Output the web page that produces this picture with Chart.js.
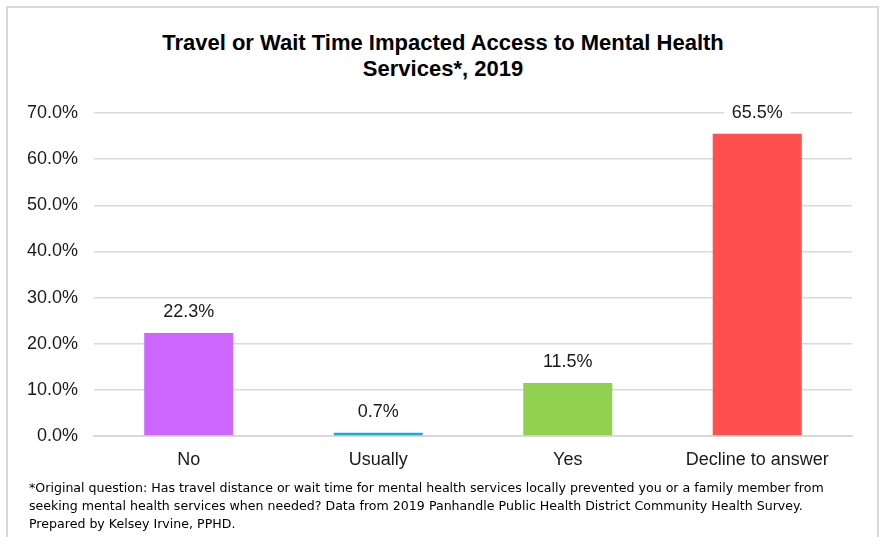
<!DOCTYPE html>
<html lang="en">
<head>
  <meta charset="UTF-8">
  <title>Travel or Wait Time Impacted Access to Mental Health Services, 2019</title>
  <script src="https://cdn.jsdelivr.net/npm/chart.js"></script>
  <style>
    body { margin: 0; background: #fff; }
    .frame {
      position: absolute; left: 6px; top: 6px; width: 869px; height: 540px;
      border: 2px solid #d9d9d9;
    }
    .title {
      position: absolute; left: 0; top: 30px; width: 886px; text-align: center;
      font-family: "Liberation Sans", Arial, sans-serif; font-weight: bold;
      font-size: 22px; line-height: 26px; color: #000;
    }
    .chart-box { position: absolute; left: 0; top: 0; width: 881px; height: 490px; }
    .note {
      position: absolute; left: 29px; top: 479px; width: 845px; white-space: nowrap;
      font-family: "DejaVu Sans", sans-serif; font-size: 12.6px; line-height: 18px; color: #000;
    }
  </style>
</head>
<body>
  <div class="frame"></div>
  <div class="title">Travel or Wait Time Impacted Access to Mental Health<br>Services*, 2019</div>
  <div class="chart-box"><canvas id="chart" width="881" height="490"></canvas></div>
  <div class="note">*Original question: Has travel distance or wait time for mental health services locally prevented you or a family member from<br>seeking mental health services when needed? Data from 2019 Panhandle Public Health District Community Health Survey.<br>Prepared by Kelsey Irvine, PPHD.</div>
  <script>
    const categories = ["No", "Usually", "Yes", "Decline to answer"];
    const percents = [22.3, 0.7, 11.5, 65.5];
    const barColors = ["#cc66ff", "#1fa8e0", "#92d050", "#ff5050"];
    const yTicks = [0, 10, 20, 30, 40, 50, 60, 70];

    const FONT = '"Liberation Sans", Arial, sans-serif';

    // value labels above the bars, on a white box so the gridlines are cut
    const valueLabels = {
      id: 'valueLabels',
      afterDatasetsDraw(chart) {
        const ctx = chart.ctx;
        const meta = chart.getDatasetMeta(0);
        ctx.save();
        ctx.font = '18px ' + FONT;
        ctx.textAlign = 'center';
        ctx.textBaseline = 'middle';
        meta.data.forEach((bar, i) => {
          const text = percents[i].toFixed(1) + '%';
          const w = ctx.measureText(text).width + 16;
          const cy = bar.y - 21;
          ctx.fillStyle = '#fff';
          ctx.fillRect(bar.x - w / 2, cy - 13, w, 26);
          ctx.fillStyle = '#1a1a1a';
          ctx.fillText(text, bar.x, cy);
        });
        ctx.restore();
      }
    };

    new Chart(document.getElementById('chart'), {
      type: 'bar',
      data: {
        labels: categories,
        datasets: [{
          data: percents,
          backgroundColor: barColors,
          borderWidth: 0,
          categoryPercentage: 1,
          barPercentage: 0.47
        }]
      },
      options: {
        responsive: false,
        animation: false,
        layout: { padding: { left: 0, right: 29, top: 113, bottom: 14 } },
        plugins: {
          legend: { display: false },
          tooltip: { enabled: false },
          title: { display: false }
        },
        scales: {
          x: {
            grid: { display: false },
            border: { color: '#d9d9d9', width: 2 },
            ticks: {
              color: '#1a1a1a',
              padding: 5,
              font: { family: FONT, size: 18 }
            },
            afterFit(scale) { scale.height = 40; }
          },
          y: {
            min: 0,
            max: 70,
            afterBuildTicks(scale) { scale.ticks = yTicks.map(v => ({ value: v })); },
            grid: { color: '#d9d9d9', lineWidth: 1.5, drawTicks: false },
            border: { display: false },
            ticks: {
              color: '#1a1a1a',
              padding: 16,
              font: { family: FONT, size: 18 },
              callback: v => v.toFixed(1) + '%'
            },
            afterFit(scale) { scale.width = 94; }
          }
        }
      },
      plugins: [valueLabels]
    });
  </script>
</body>
</html>
